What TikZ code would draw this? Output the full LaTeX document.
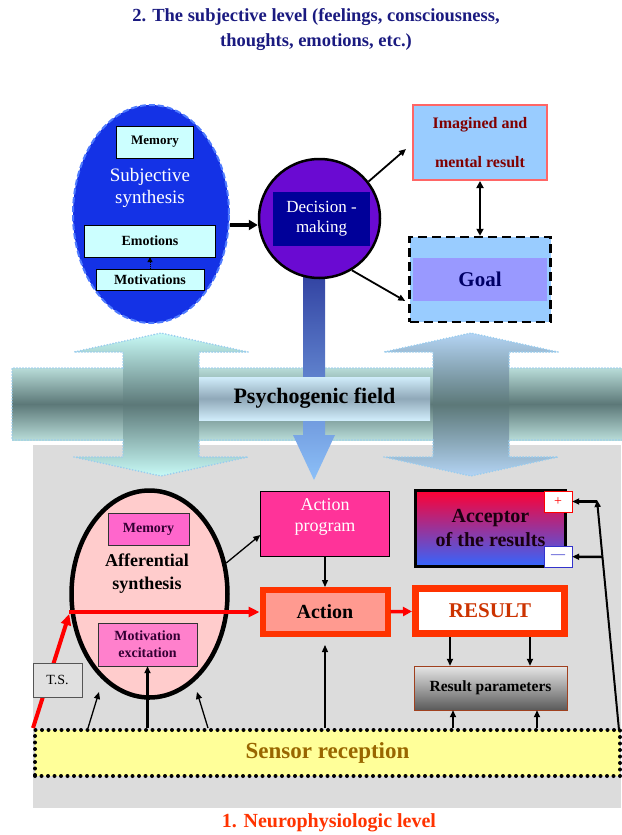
\documentclass[tikz,border=0pt]{standalone}
\usepackage{fontspec}
\setmainfont{Liberation Serif}
\usetikzlibrary{shapes.geometric,arrows.meta,calc}

\definecolor{navy}{HTML}{1A1A80}
\definecolor{levelred}{HTML}{FF3300}
\definecolor{bggray}{HTML}{DCDCDC}
\definecolor{fieldtop}{HTML}{B8DCD8}
\definecolor{fieldmid}{HTML}{5C7878}
\definecolor{fieldblue}{HTML}{99CCEE}
\definecolor{cyanarr}{HTML}{C8FAF6}
\definecolor{bluearr}{HTML}{B4D4F4}
\definecolor{stemtop}{HTML}{3040A0}
\definecolor{stembot}{HTML}{8CC0F8}
\definecolor{psytop}{HTML}{D0ECFA}
\definecolor{psymid}{HTML}{90A8B8}
\definecolor{subjblue}{HTML}{1432E6}
\definecolor{subjedge}{HTML}{4F7BFF}
\definecolor{paleblue}{HTML}{CCFFFF}
\definecolor{decpurple}{HTML}{6A0AD2}
\definecolor{decnavy}{HTML}{000099}
\definecolor{skyblue}{HTML}{99CCFF}
\definecolor{pinkedge}{HTML}{FF6666}
\definecolor{darkred}{HTML}{800000}
\definecolor{goalband}{HTML}{9999FF}
\definecolor{goalnavy}{HTML}{000066}
\definecolor{affpink}{HTML}{FFCCCC}
\definecolor{magpink}{HTML}{FF66CC}
\definecolor{motpink}{HTML}{FF80CC}
\definecolor{darkplum}{HTML}{330033}
\definecolor{boxedge}{HTML}{333333}
\definecolor{progpink}{HTML}{FF3399}
\definecolor{actsalmon}{HTML}{FF9A90}
\definecolor{actedge}{HTML}{FF3300}
\definecolor{rust}{HTML}{CC3300}
\definecolor{accred}{HTML}{FF0033}
\definecolor{accblue}{HTML}{3366FF}
\definecolor{accink}{HTML}{1A0010}
\definecolor{minusblue}{HTML}{3333CC}
\definecolor{parlight}{HTML}{E6E6E6}
\definecolor{pardark}{HTML}{5A5A5A}
\definecolor{parbrown}{HTML}{A0401E}
\definecolor{sensyellow}{HTML}{FFFF99}
\definecolor{sensink}{HTML}{996600}
\definecolor{tsgray}{HTML}{E0E0E0}
\definecolor{tsedge}{HTML}{555555}
\definecolor{arrred}{HTML}{FF0000}

\newcommand{\fsz}[2]{\fontsize{#1}{#2}\selectfont\bfseries}

\begin{document}
\begin{tikzpicture}[x=1pt,y=-1pt,
        box/.style={draw,rectangle,inner sep=0pt,align=center},
        arr/.style={-{Triangle[length=7pt,width=6pt]},line width=1.3pt},
        bigarr/.style={-{Triangle[length=9pt,width=10pt]},line width=3.5pt},
        redarr/.style={-{Triangle[length=11pt,width=10pt]},line width=4pt,draw=arrred},
        fieldline/.style={draw=fieldblue,line width=1.8pt,dash pattern=on 0pt off 3pt,line cap=round}]
        \useasboundingbox (0,0) rectangle (621,835);
        \node[text=navy,align=center,font=\fsz{18.5}{25}] (title2) at (316,30)
            {2. The subjective level (feelings, consciousness,\\thoughts, emotions, etc.)};
        \node[text=levelred,font=\fsz{20}{24}] (title1) at (329,823) {1. Neurophysiologic level};
        \fill[bggray] (33,445) rectangle (621,808);
        % psychogenic field
        \shade[top color=fieldtop,bottom color=fieldtop,middle color=fieldmid] (12,368) rectangle (623,440);
        \draw[fieldline] (623,368) -- (12,368) -- (12,440) -- (623,440);
        \foreach \cx/\c in {161/cyanarr,471/bluearr}{
            \shade[top color=\c,bottom color=\c,middle color=fieldmid]
                (\cx,333) -- (\cx+87,352) -- (\cx+38,352) -- (\cx+38,457) -- (\cx+87,457) -- (\cx,476)
                -- (\cx-87,457) -- (\cx-38,457) -- (\cx-38,352) -- (\cx-87,352) -- cycle;
            \draw[fieldline] (\cx-38,368) -- (\cx-38,352) -- (\cx-87,352) -- (\cx,333) -- (\cx+87,352) -- (\cx+38,352) -- (\cx+38,368);
            \draw[fieldline] (\cx-38,440) -- (\cx-38,457) -- (\cx-87,457) -- (\cx,476) -- (\cx+87,457) -- (\cx+38,457) -- (\cx+38,440);
        }
        \shade[top color=stemtop,bottom color=stembot] (303,270) -- (325,270) -- (325,435) -- (335,435)
            -- (314,480) -- (293,435) -- (303,435) -- cycle;
        \node[box,draw=none,minimum width=231pt,minimum height=43pt,top color=psytop,bottom color=psytop,
            middle color=psymid,font=\fsz{22}{26}] (psy) at (314.5,398.5) {Psychogenic field};
        % subjective level
        \node[ellipse,minimum width=156pt,minimum height=218pt,fill=subjblue,draw=subjedge,
            dash pattern=on 6pt off 3pt,line width=2pt] (subj) at (151,214) {};
        \node[box,fill=paleblue,minimum width=77pt,minimum height=32pt,font=\fsz{13}{15}] (memtop) at (155,142) {Memory};
        \node[text=white,align=center,font=\fontsize{19}{22}\selectfont] (subjtxt) at (150,188) {Subjective\\synthesis};
        \node[box,fill=paleblue,minimum width=131pt,minimum height=32pt,font=\fsz{14}{16}] (emo) at (150,241) {Emotions};
        \node[box,fill=paleblue,minimum width=108pt,minimum height=21pt,font=\fsz{14}{16}] (motiv) at (150,280) {Motivations};
        \draw[densely dotted,line width=1pt,-{Triangle[length=5pt,width=5pt]}] (motiv) -- (emo);
        \node[ellipse,minimum width=121pt,minimum height=119pt,fill=decpurple,draw,line width=2.5pt] (dec) at (319.5,218.5) {};
        \node[box,draw=none,fill=decnavy,minimum width=97pt,minimum height=54pt,text=white,
            font=\fontsize{17}{20}\selectfont] (decbox) at (321.5,219) {Decision -\\making};
        \node[box,fill=skyblue,draw=pinkedge,line width=2pt,minimum width=134pt,minimum height=75pt,
            text=darkred,font=\fsz{16}{19}] (imag) at (480,142.5) {Imagined and\\[20pt]mental result};
        \node[box,fill=skyblue,dash pattern=on 9pt off 5pt,line width=2.5pt,minimum width=141pt,
            minimum height=85pt] (goal) at (480,279.5) {};
        \node[box,draw=none,fill=goalband,minimum width=134pt,minimum height=43pt,text=goalnavy,
            font=\fsz{21}{24}] (goalbd) at (480,279.5) {Goal};
        \draw[bigarr] ([yshift=-11pt]subj.east) -- ([yshift=-6.5pt]dec.west);
        \draw[{Triangle[length=7pt,width=7pt]}-{Triangle[length=7pt,width=7pt]},line width=2pt] (imag) -- (goal);
        \draw[arr,line width=1.8pt] (dec.37) -- ([shift={(-6pt,-6.5pt)}]imag.west);
        \draw[arr,line width=1.8pt] (dec.-58) -- ([shift={(-3pt,-21.5pt)}]goal.west);
        % neurophysiologic level
        \node[ellipse,minimum width=156pt,minimum height=207pt,fill=affpink,draw,line width=4.5pt] (aff) at (149.5,594) {};
        \node[box,fill=magpink,draw=boxedge,minimum width=81pt,minimum height=32pt,text=darkplum,
            font=\fsz{14}{16}] (memb) at (148.5,529) {Memory};
        \node[align=center,font=\fsz{18}{23}] (afftxt) at (147,574) {Afferential\\synthesis};
        \node[box,fill=motpink,draw=boxedge,minimum width=99pt,minimum height=43pt,text=darkplum,
            font=\fsz{14}{17}] (motex) at (147.5,644.5) {Motivation\\excitation};
        \node[box,fill=progpink,minimum width=129pt,minimum height=65pt] (prog) at (325,523.5) {};
        \node[text=white,align=center,font=\fontsize{18}{21}\selectfont] (progtxt) at (325,517) {Action\\program};
        \node[box,fill=actsalmon,draw=actedge,line width=6pt,minimum width=125pt,minimum height=44pt,
            font=\fsz{20}{24}] (act) at (325,612) {Action};
        \node[box,fill=white,draw=actedge,line width=7pt,minimum width=149pt,minimum height=45pt,
            text=rust,font=\fsz{21}{24}] (res) at (490,611) {RESULT};
        \node[box,top color=accred,bottom color=accblue,line width=3pt,minimum width=150pt,minimum height=76pt,
            text=accink,font=\fsz{20}{24}] (acc) at (490.5,528.5) {Acceptor\\of the results};
        \node[box,fill=white,draw=red,minimum width=28pt,minimum height=21pt,text=red,
            font=\fontsize{14}{16}\selectfont] (plus) at (558,501.5) {+};
        \node[box,fill=white,draw=minusblue,minimum width=28pt,minimum height=21pt,text=minusblue,
            font=\fontsize{14}{16}\selectfont] (minus) at (558,556.5) {---};
        \node[box,top color=parlight,bottom color=pardark,draw=parbrown,minimum width=153pt,minimum height=44pt,
            font=\fsz{15.5}{18}] (rpar) at (490.5,688) {Result parameters};
        \node[box,fill=sensyellow,line width=4pt,dash pattern=on 0pt off 6.5pt,line cap=round,
            minimum width=585pt,minimum height=46pt,text=sensink,font=\fsz{23}{26}] (sens) at (327.5,753) {Sensor reception};
        \coordinate (affl) at (99,692);
        \coordinate (affr) at (197,692);
        \coordinate (fb) at (597,500);
        \coordinate (fbm) at (602,557);
        \draw[redarr] ([yshift=-18pt]aff.west) -- (act);
        \draw[redarr] (sens.north west) -- ([yshift=-20pt]aff.west);
        \draw[redarr,line width=3.5pt,-{Triangle[length=9pt,width=9pt]}] (act) -- (res);
        \node[box,fill=tsgray,draw=tsedge,minimum width=49pt,minimum height=34pt,
            font=\fontsize{14}{16}\selectfont] (ts) at (57.5,680) {T.S.};
        \draw[arr] (aff.22) -- ([yshift=-11.5pt]prog.west);
        \draw[arr] (prog) -- (act);
        \draw[arr] (act.south |- sens.north) -- ([yshift=-8pt]act.south);
        \draw[arr] ($(sens.north west)+(55,0)$) -- (affl);
        \draw[arr,line width=2.5pt] (motex.south |- sens.north) -- (motex.south);
        \draw[arr] ($(sens.north west)+(175,0)$) -- (affr);
        \draw[arr,line width=1.8pt] ($(res.south)+(-40,0)$) -- ($(rpar.north)+(-40.5,0)$);
        \draw[arr,line width=1.8pt] ($(res.south)+(40,0)$) -- ($(rpar.north)+(39.5,0)$);
        \draw[arr,line width=1.8pt] ($(sens.north)+(125.5,0)$) -- ($(rpar.south)+(-37.5,0)$);
        \draw[arr,line width=1.8pt] ($(sens.north)+(209.5,0)$) -- ($(rpar.south)+(46.5,0)$);
        \draw[arr,line width=2pt] ($(sens.north east)+(-3,2)$) -- (fb);
        \draw[arr,line width=2.5pt] (fb |- plus) -- (plus);
        \draw[arr,line width=2.5pt] (fbm) -- (minus);
    \end{tikzpicture}
\end{document}
